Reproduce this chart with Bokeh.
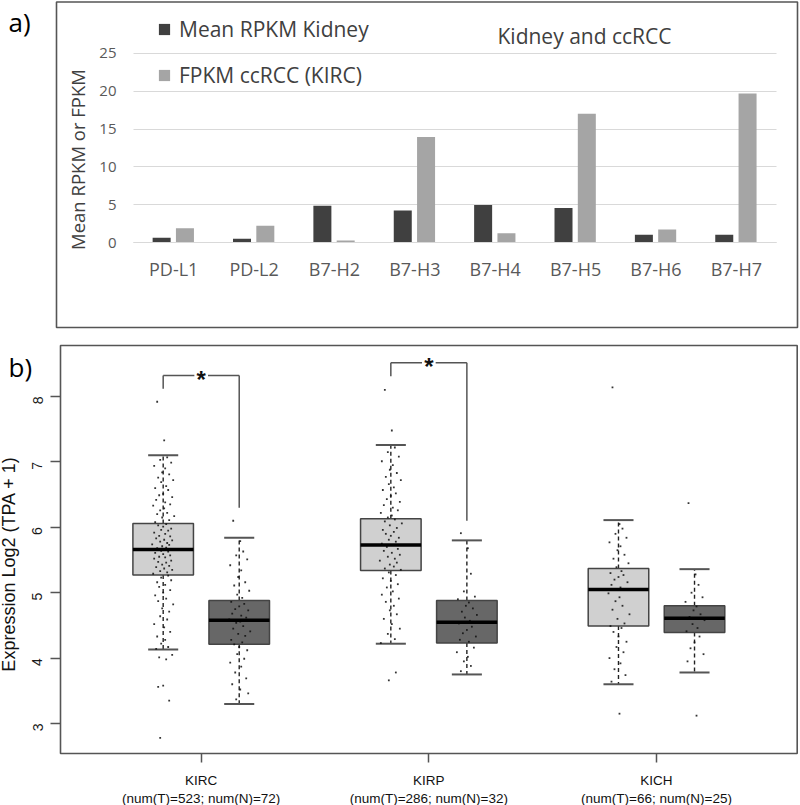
import math
from bokeh.plotting import figure
from bokeh.models import (Range1d, FixedTicker, Label, BoxAnnotation, Legend,
                          LegendItem, ColumnDataSource, LinearAxis, Grid)
from bokeh.layouts import column
from bokeh.embed import file_html
from bokeh.resources import INLINE
from bokeh.core.properties import value

# ---------------- panel a data ----------------
genes = ["PD-L1", "PD-L2", "B7-H2", "B7-H3", "B7-H4", "B7-H5", "B7-H6", "B7-H7"]
rpkm_kidney = [0.65, 0.53, 4.87, 4.25, 5.0, 4.6, 1.05, 1.05]
fpkm_kirc = [1.92, 2.24, 0.3, 13.95, 1.26, 17.0, 1.75, 19.7]
bar_ticks = [0, 5, 10, 15, 20, 25]

# ---------------- panel b data ----------------
cancers = ["KIRC", "KIRP", "KICH"]
n_tumor = [523, 286, 66]
n_normal = [72, 32, 25]
tumor_lo = [4.13, 4.22, 3.60]
tumor_q1 = [5.27, 5.34, 4.49]
tumor_med = [5.66, 5.73, 5.05]
tumor_q3 = [6.06, 6.13, 5.37]
tumor_hi = [7.10, 7.26, 6.11]
normal_lo = [3.30, 3.75, 3.78]
normal_q1 = [4.21, 4.23, 4.39]
normal_med = [4.58, 4.55, 4.61]
normal_q3 = [4.88, 4.88, 4.80]
normal_hi = [5.84, 5.80, 5.36]
box_ticks = [3, 4, 5, 6, 7, 8]

kirc_t_dots = [7.92, 7.33, 7.07, 7.03, 6.99, 6.94, 6.9, 6.84, 6.81, 6.76, 6.72, 6.69, 6.63, 6.6,
               6.57, 6.51, 6.49, 6.46, 6.42, 6.38, 6.35, 6.33, 6.29, 6.26, 6.22, 6.2, 6.17, 6.15,
               6.11, 6.08, 6.05, 6.03, 6.01, 5.98, 5.96, 5.95, 5.92, 5.9, 5.87, 5.86, 5.83, 5.81,
               5.8, 5.78, 5.76, 5.74, 5.73, 5.71, 5.69, 5.68, 5.66, 5.64, 5.63, 5.61, 5.59, 5.57,
               5.55, 5.54, 5.52, 5.49, 5.47, 5.46, 5.43, 5.41, 5.39, 5.37, 5.35, 5.33, 5.31, 5.29,
               5.26, 5.23, 5.19, 5.16, 5.12, 5.09, 5.04, 5.0, 4.96, 4.91, 4.87, 4.82, 4.76, 4.71,
               4.64, 4.59, 4.52, 4.47, 4.4, 4.33, 4.28, 4.22, 4.17, 4.14, 4.05, 4.01, 3.98, 3.58,
               3.56, 3.35, 2.78]
kirc_n_dots = [6.10, 5.79, 5.63, 5.57, 5.51, 5.42, 5.34, 5.24, 5.16, 5.11, 5.03, 4.97, 4.92, 4.86,
               4.83, 4.79, 4.75, 4.73, 4.68, 4.65, 4.62, 4.59, 4.56, 4.54, 4.49, 4.45, 4.41, 4.37,
               4.34, 4.28, 4.24, 4.21, 4.17, 4.12, 4.06, 3.99, 3.93, 3.87, 3.78, 3.69, 3.6, 3.52,
               3.46, 3.37]
kirp_t_dots = [8.10, 7.48, 7.22, 7.15, 7.08, 7.01, 6.95, 6.88, 6.83, 6.77, 6.72, 6.66, 6.61, 6.57,
               6.52, 6.48, 6.43, 6.39, 6.34, 6.3, 6.26, 6.22, 6.18, 6.15, 6.12, 6.09, 6.06, 6.03,
               5.99, 5.96, 5.93, 5.9, 5.87, 5.84, 5.81, 5.78, 5.75, 5.73, 5.7, 5.67, 5.64, 5.61,
               5.58, 5.55, 5.52, 5.49, 5.46, 5.43, 5.4, 5.37, 5.35, 5.31, 5.27, 5.22, 5.18, 5.13,
               5.08, 5.02, 4.97, 4.91, 4.86, 4.8, 4.73, 4.67, 4.6, 4.52, 4.45, 4.37, 4.29, 4.23,
               3.78, 3.66]
kirp_n_dots = [5.91, 5.68, 5.29, 5.02, 4.94, 4.9, 4.85, 4.8, 4.76, 4.71, 4.66, 4.62, 4.57, 4.53,
               4.48, 4.43, 4.38, 4.33, 4.28, 4.25, 4.16, 4.09, 4.02, 3.95, 3.88, 3.8]
kich_t_dots = [8.14, 6.05, 5.98, 5.9, 5.84, 5.77, 5.71, 5.65, 5.58, 5.52, 5.45, 5.39, 5.33, 5.3,
               5.27, 5.24, 5.2, 5.16, 5.12, 5.08, 5.04, 4.99, 4.93, 4.87, 4.8, 4.74, 4.67, 4.6,
               4.53, 4.49, 4.46, 4.4, 4.33, 4.25, 4.17, 4.09, 4.0, 3.92, 3.83, 3.74, 3.64, 3.15]
kich_n_dots = [6.37, 5.28, 5.12, 5.0, 4.93, 4.86, 4.79, 4.73, 4.67, 4.63, 4.58, 4.52, 4.46, 4.41,
               4.33, 4.24, 4.15, 4.06, 3.95, 3.12]
tumor_dots = [kirc_t_dots, kirp_t_dots, kich_t_dots]
normal_dots = [kirc_n_dots, kirp_n_dots, kich_n_dots]

# significance brackets (KIRC and KIRP)
sig_groups = [1, 2]
sig_top = [8.32, 8.515]
sig_left_end = [8.12, 8.31]
sig_right_end = [6.30, 6.10]

# horizontal jitter of the dots, in pixels
jitter_px = [-6, 1, 4, -3, 8, -9, 2, -1, 6, -5, 10, -2, 3, -8, 5, 0, -4, 9, -7, 2,
             7, -10, 1, -3, 4, -6, 11, -1, 6, -8, 3, -5, 0, 8, -2, 5, -9, 2, -4, 7,
             -7, 1, 9, -3, 4, -11, 6, -1, 3, -6, 10, -2, 5, -8, 0, 7, -4, 2, -9, 8,
             -5, 3, -1, 6, -7, 1, 9, -3, 4, -10, 5, -2, 8, -6, 2, -4, 7, 0, -8, 3,
             -5, 10, -1, 6, -3, 4, -9, 1, 7, -6, 2, -2, 5, -7, 9, -4, 3, 0, -5, 6,
             -3, 8, -1, 4, -7, 2, -5, 9, -2, 5]

FA = "Open Sans"
FB = "Liberation Sans"

# ================= panel a =================
# frame fills the whole figure; axes are pinned with fixed_location
PXA = 80.375     # px per category
PYA = 7.584      # px per unit
pa = figure(width=800, height=336, output_backend="svg", toolbar_location=None,
            x_axis_type=None, y_axis_type=None,
            x_range=Range1d(-0.5 - 133 / PXA, -0.5 + 667 / PXA),
            y_range=Range1d(-(336 - 242.3) / PYA, 242.3 / PYA),
            min_border_left=0, min_border_right=0, min_border_top=0, min_border_bottom=0)
pa.outline_line_color = None
pa.background_fill_color = "white"
pa.border_fill_color = "white"

idx = list(range(len(genes)))
src_a = ColumnDataSource(dict(xd=[i - 0.15 for i in idx], xl=[i + 0.14 for i in idx],
                              rpkm=rpkm_kidney, fpkm=fpkm_kirc))

pa.add_layout(Grid(dimension=1, ticker=FixedTicker(ticks=bar_ticks),
                   cross_bounds=(-0.5, 7.5), grid_line_color="#d9d9d9", grid_line_width=1))

r1 = pa.vbar(x="xd", top="rpkm", width=0.224, bottom=0, source=src_a,
             fill_color="#404040", line_color=None)
r2 = pa.vbar(x="xl", top="fpkm", width=0.224, bottom=0, source=src_a,
             fill_color="#a5a5a5", line_color=None)

xa = LinearAxis(fixed_location=0, bounds=(-0.5, 7.5), ticker=FixedTicker(ticks=idx),
                major_label_overrides={i: g for i, g in zip(idx, genes)},
                axis_line_color="#d9d9d9", major_tick_line_color=None,
                minor_tick_line_color=None, major_label_standoff=8,
                major_label_text_font=FA, major_label_text_font_size="18px",
                major_label_text_color="#595959")
pa.add_layout(xa, "below")

ya = LinearAxis(fixed_location=-0.5, bounds=(-3, 25), ticker=FixedTicker(ticks=bar_ticks),
                axis_line_color=None, major_tick_line_color=None, minor_tick_line_color=None,
                major_label_standoff=11, major_label_text_font=FA,
                major_label_text_font_size="15px", major_label_text_color="#595959",
                axis_label="Mean RPKM or FPKM", axis_label_text_font=FA,
                axis_label_text_font_size="18.5px", axis_label_text_font_style="normal",
                axis_label_text_color="#404040", axis_label_standoff=6)
pa.add_layout(ya, "left")

legend = Legend(items=[LegendItem(label="Mean RPKM Kidney", renderers=[r1]),
                       LegendItem(label="FPKM ccRCC (KIRC)", renderers=[r2])],
                location=(157, 247), orientation="vertical",
                background_fill_alpha=0, border_line_color=None,
                padding=0, margin=0, spacing=18,
                glyph_width=14, glyph_height=14, label_standoff=8,
                label_text_font=FA, label_text_font_size="21px",
                label_text_color="#404040")
pa.add_layout(legend)

pa.add_layout(Label(x=-0.5 + 451 / PXA, y=(242.3 - 35.5) / PYA, text="Kidney and ccRCC",
                    text_align="center", text_baseline="middle", text_font=FA,
                    text_font_size="21px", text_color="#404040"))
pa.add_layout(Label(x=-0.5 - 125 / PXA, y=(242.3 - 21) / PYA, text="a)", text_align="left",
                    text_baseline="middle", text_font=FA, text_font_size="26px",
                    text_color="#000000"))
pa.add_layout(BoxAnnotation(left=-0.5 - 77 / PXA, right=-0.5 + 664 / PXA,
                            top=(242.3 - 1.5) / PYA, bottom=-(327 - 242.3) / PYA,
                            fill_alpha=0, line_color="#555555", line_alpha=1.0,
                            line_width=1.6))

# ================= panel b =================
PXB = 227.65     # px per group
PYB = 65.4       # px per unit
TOPB = 336       # page y of panel b figure top
pb = figure(width=800, height=469, output_backend="svg", toolbar_location=None,
            x_axis_type=None, y_axis_type=None,
            x_range=Range1d(1 - 200.7 / PXB, 1 + 599.3 / PXB),
            y_range=Range1d(3 - (805 - 723) / PYB, 8 + (396 - TOPB) / PYB),
            min_border_left=0, min_border_right=0, min_border_top=0, min_border_bottom=0)
pb.outline_line_color = None
pb.background_fill_color = "white"
pb.border_fill_color = "white"

box_left = 1 - 140.7 / PXB
box_right = 1 + 596 / PXB
box_top = 8 + 51 / PYB
box_bottom = 3 - 30 / PYB

grp = [1, 2, 3]
xb = LinearAxis(fixed_location=box_bottom, ticker=FixedTicker(ticks=grp),
                major_label_overrides={g: f"{c}\n(num(T)={t}; num(N)={n})"
                                       for g, c, t, n in zip(grp, cancers, n_tumor, n_normal)},
                axis_line_color=None, major_tick_line_color="#555555", major_tick_line_width=1.5,
                major_tick_out=9, major_tick_in=0, minor_tick_line_color=None,
                major_label_standoff=10, major_label_text_font=FB,
                major_label_text_font_size="13.5px", major_label_text_color="#111111")
pb.add_layout(xb, "below")

yb = LinearAxis(fixed_location=box_left, bounds=(2.1, 8.78), ticker=FixedTicker(ticks=box_ticks),
                axis_line_color=None, major_tick_line_color="#555555", major_tick_line_width=1.5,
                major_tick_out=10, major_tick_in=0, minor_tick_line_color=None,
                major_label_orientation=math.pi / 2, major_label_standoff=13,
                major_label_text_font=FB, major_label_text_font_size="14px",
                major_label_text_color="#1a1a1a",
                axis_label="Expression Log2 (TPA + 1)", axis_label_text_font=FB,
                axis_label_text_font_size="18px", axis_label_text_font_style="normal",
                axis_label_text_color="#111111", axis_label_standoff=6)
pb.add_layout(yb, "left")

pb.add_layout(BoxAnnotation(left=box_left, right=box_right, top=box_top, bottom=box_bottom,
                            fill_alpha=0, line_color="#555555", line_alpha=1.0,
                            line_width=1.6))

off = 0.167          # tumour / normal offset
hw = 0.133           # half box width
cw = 0.066           # half cap width

for kind, lo, q1, med, q3, hi, dots, fill in [
        ("T", tumor_lo, tumor_q1, tumor_med, tumor_q3, tumor_hi, tumor_dots, "#d0d0d0"),
        ("N", normal_lo, normal_q1, normal_med, normal_q3, normal_hi, normal_dots, "#676767")]:
    xs = [g - off if kind == "T" else g + off for g in grp]
    s = ColumnDataSource(dict(x=xs, lo=lo, q1=q1, med=med, q3=q3, hi=hi,
                              l=[x - hw for x in xs], r=[x + hw for x in xs],
                              cl=[x - cw for x in xs], cr=[x + cw for x in xs]))
    pb.segment(x0="x", y0="q3", x1="x", y1="hi", source=s, line_color="#222222",
               line_width=1.4, line_dash="4 3")
    pb.segment(x0="x", y0="q1", x1="x", y1="lo", source=s, line_color="#222222",
               line_width=1.4, line_dash="4 3")
    pb.segment(x0="cl", y0="hi", x1="cr", y1="hi", source=s, line_color="#555555", line_width=2)
    pb.segment(x0="cl", y0="lo", x1="cr", y1="lo", source=s, line_color="#555555", line_width=2)
    pb.quad(left="l", right="r", bottom="q1", top="q3", source=s, fill_color=fill,
            line_color="#444444", line_width=1.5)
    dx, dy = [], []
    for x, vals in zip(xs, dots):
        for i, v in enumerate(vals):
            dx.append(x + jitter_px[i] / PXB)
            dy.append(v)
    pb.scatter(x=dx, y=dy, size=1.8, marker="square", fill_color="#111111",
               line_color=None, fill_alpha=0.85)
    pb.segment(x0="l", y0="med", x1="r", y1="med", source=s, line_color="#000000",
               line_width=3.5)

# significance brackets
gap = 0.03
for g, top, le, re in zip(sig_groups, sig_top, sig_left_end, sig_right_end):
    xl, xr = g - off, g + off
    pb.segment(x0=[xl, xl, g + gap, xr], y0=[le, top, top, top],
               x1=[xl, g - gap, xr, xr], y1=[top, top, top, re],
               line_color="#555555", line_width=1.5)
    pb.text(x=[g], y=[top], text=["*"], text_align="center", text_baseline="middle",
            text_font=value(FB), text_font_size="24px", text_font_style="bold",
            text_color="#111111", y_offset=4)

pb.add_layout(Label(x=1 + (8 - 200.7) / PXB, y=8 - (366.5 - 396) / PYB, text="b)",
                    text_align="left", text_baseline="middle", text_font=FA,
                    text_font_size="26px", text_color="#000000"))

layout = column(pa, pb, spacing=0)
open("out.html", "w").write(file_html(layout, INLINE))
